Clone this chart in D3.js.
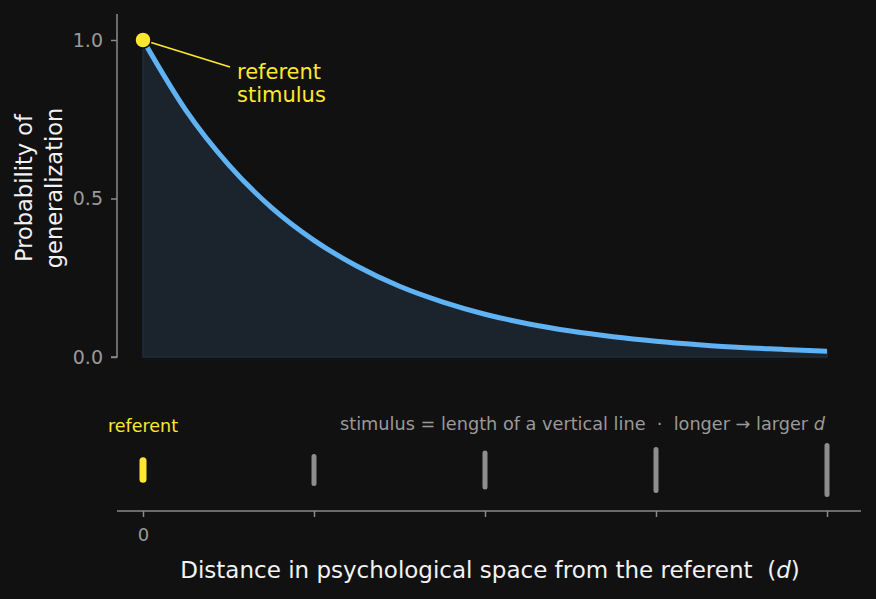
<!DOCTYPE html>
<html><head><meta charset="utf-8">
<script src="https://cdn.jsdelivr.net/npm/d3@7"></script>
<style>
html,body{margin:0;padding:0;background:#111111;}
svg{display:block;font-family:"DejaVu Sans",sans-serif;}
</style></head>
<body>
<svg id="c" width="876" height="599"></svg>
<script>
// Distance values (d) and read-off generalization probabilities
const distances = [0, 0.25, 0.5, 0.75, 1, 1.25, 1.5, 1.75, 2, 2.25, 2.5, 2.75, 3, 3.25, 3.5, 3.75, 4];
const probabilities = [1.000, 0.779, 0.607, 0.472, 0.368, 0.287, 0.223, 0.174, 0.135, 0.105, 0.082, 0.064, 0.050, 0.039, 0.030, 0.024, 0.018];
const yTicks = [0, 0.5, 1.0];
const xTicks = [0, 1, 2, 3, 4];
const xTickLabels = ["0", "", "", "", ""];
const stimulusD = [0, 1, 2, 3, 4];
const stimulusLength = [1.00, 1.46, 1.84, 2.22, 2.65];

const svg = d3.select("#c");
const x = d3.scaleLinear().domain([0, 4]).range([143, 827]);
const y = d3.scaleLinear().domain([0, 1]).range([357, 40]);
const lenScale = d3.scaleLinear().domain([0, 1]).range([0, 18.5]);

const pts = distances.map((d, i) => ({d, p: probabilities[i]}));

// area
svg.append("path").datum(pts)
  .attr("d", d3.area().x(p => x(p.d)).y0(y(0)).y1(p => y(p.p)).curve(d3.curveMonotoneX))
  .attr("fill", "#1b232d").attr("stroke", "#1f2c3a").attr("stroke-width", 1.5);

// curve
svg.append("path").datum(pts)
  .attr("d", d3.line().x(p => x(p.d)).y(p => y(p.p)).curve(d3.curveMonotoneX))
  .attr("fill", "none").attr("stroke", "#5fb2f3").attr("stroke-width", 5);

// y axis
const yAxis = svg.append("g").attr("transform", "translate(117,0)")
  .call(d3.axisLeft(y).tickValues(yTicks).tickFormat(d3.format(".1f")).tickSize(6).tickPadding(8));
yAxis.select(".domain").attr("d", `M-6,${y(0)}H0V14`).attr("stroke", "#8a8a8a").attr("stroke-width", 1.5);
yAxis.selectAll(".tick line").attr("stroke", "#8a8a8a").attr("stroke-width", 1.5);
yAxis.selectAll(".tick text").attr("fill", "#9a9a9a").attr("font-size", 19).attr("font-family", "DejaVu Sans");

// y label
const yl = svg.append("text").attr("transform", "translate(32,188) rotate(-90)")
  .attr("text-anchor", "middle").attr("fill", "#f2f2f2").attr("font-size", 22.5);
yl.append("tspan").attr("x", 0).attr("dy", 0).text("Probability of");
yl.append("tspan").attr("x", 0).attr("dy", 30).text("generalization");

// annotation
svg.append("line").attr("x1", x(0)).attr("y1", y(1)).attr("x2", 230).attr("y2", 67)
  .attr("stroke", "#fde82f").attr("stroke-width", 1.8);
svg.append("circle").attr("cx", x(0)).attr("cy", y(1)).attr("r", 8)
  .attr("fill", "#fde82f").attr("stroke", "#111").attr("stroke-width", 1.5);
const ann = svg.append("text").attr("fill", "#fde82f").attr("font-size", 21);
ann.append("tspan").attr("x", 237).attr("y", 79).text("referent");
ann.append("tspan").attr("x", 237).attr("y", 102).text("stimulus");

// bottom axis
const xAxis = svg.append("g").attr("transform", "translate(0,511)")
  .call(d3.axisBottom(x).tickValues(xTicks).tickFormat((d, i) => xTickLabels[i]).tickSize(6).tickPadding(11));
xAxis.select(".domain").attr("d", "M117,0H861").attr("stroke", "#8a8a8a").attr("stroke-width", 1.5);
xAxis.selectAll(".tick line").attr("stroke", "#8a8a8a").attr("stroke-width", 1.5);
xAxis.selectAll(".tick text").attr("fill", "#9a9a9a").attr("font-size", 18).attr("font-family", "DejaVu Sans");

// stimulus lines
svg.selectAll(".stim").data(stimulusD).enter().append("line")
  .attr("x1", d => x(d)).attr("x2", d => x(d))
  .attr("y1", (d, i) => 470 - lenScale(stimulusLength[i]) / 2)
  .attr("y2", (d, i) => 470 + lenScale(stimulusLength[i]) / 2)
  .attr("stroke", (d, i) => i === 0 ? "#fde82f" : "#8e8e8e")
  .attr("stroke-width", (d, i) => i === 0 ? 7 : 5)
  .attr("stroke-linecap", "round");

svg.append("text").attr("x", 108).attr("y", 432).attr("fill", "#fde82f").attr("font-size", 17.5).text("referent");

const note = svg.append("text").attr("x", 825).attr("y", 430).attr("text-anchor", "end")
  .attr("fill", "#9a9a9a").attr("font-size", 17.7).style("white-space", "pre");
note.append("tspan").text("stimulus = length of a vertical line  \u00b7  longer \u2192 larger ");
note.append("tspan").attr("font-style", "italic").text("d");

// x label
const xl = svg.append("text").attr("x", 490).attr("y", 578).attr("text-anchor", "middle")
  .attr("fill", "#f2f2f2").attr("font-size", 23).style("white-space", "pre");
xl.append("tspan").text("Distance in psychological space from the referent  (");
xl.append("tspan").attr("font-style", "italic").text("d");
xl.append("tspan").text(")");
</script>
</body></html>
